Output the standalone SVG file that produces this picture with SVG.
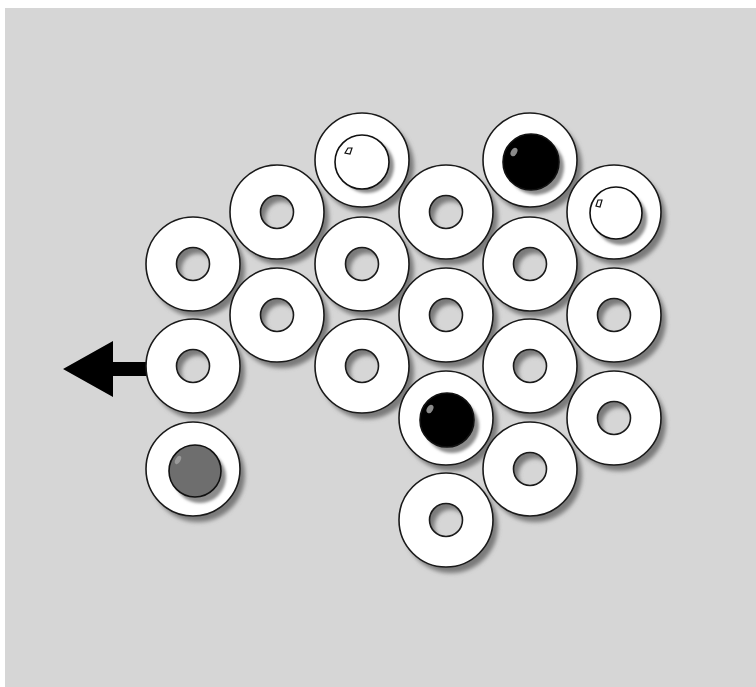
<svg xmlns="http://www.w3.org/2000/svg" width="756" height="687" viewBox="0 0 756 687">
  <defs>
    <!-- ring: outer disc with a centre hole (evenodd) -->
    <path id="ring" d="M-47,0 a47,47 0 1,0 94,0 a47,47 0 1,0 -94,0 Z M-16.5,0 a16.5,16.5 0 1,0 33,0 a16.5,16.5 0 1,0 -33,0 Z" fill-rule="evenodd"/>
    <filter id="soft" x="-30%" y="-30%" width="160%" height="160%">
      <feGaussianBlur stdDeviation="2"/>
    </filter>
    <filter id="softer" x="-30%" y="-30%" width="160%" height="160%">
      <feGaussianBlur stdDeviation="1.6"/>
    </filter>
    <radialGradient id="holeLight" cx="0.65" cy="0.7" r="0.6">
      <stop offset="0" stop-color="#e6e6e6"/>
      <stop offset="1" stop-color="#d2d2d2"/>
    </radialGradient>
  </defs>
  <style>
    .bg { fill: #d6d6d6; }
    .shadow { fill: #7a7a7a; filter: url(#soft); }
    .ring { fill: #ffffff; stroke: #1a1a1a; stroke-width: 1.6; }
    .hole { fill: url(#holeLight); }
    .ballShadow { fill: #8c8c8c; filter: url(#softer); }
    .ball { stroke: #111; stroke-width: 1.6; }
    .white { fill: #ffffff; }
    .black { fill: #000000; }
    .grey { fill: #6e6e6e; }
    .glint { fill: #ffffff; stroke: #111; stroke-width: 1.2; }
    .glintDark { fill: #8a8a8a; }
    .arrow { fill: #000000; }
  </style>

  <rect x="0" y="0" width="756" height="687" fill="#ffffff"/>
  <rect class="bg" x="5" y="8" width="751" height="679"/>

  <!-- cast shadows of all rings -->
  <g id="shadows">
    <use href="#ring" class="shadow" x="198" y="270"/>
    <use href="#ring" class="shadow" x="198" y="372"/>
    <use href="#ring" class="shadow" x="198" y="475"/>
    <use href="#ring" class="shadow" x="282" y="218"/>
    <use href="#ring" class="shadow" x="282" y="321"/>
    <use href="#ring" class="shadow" x="367" y="166"/>
    <use href="#ring" class="shadow" x="367" y="270"/>
    <use href="#ring" class="shadow" x="367" y="372"/>
    <use href="#ring" class="shadow" x="451" y="218"/>
    <use href="#ring" class="shadow" x="451" y="321"/>
    <use href="#ring" class="shadow" x="451" y="424"/>
    <use href="#ring" class="shadow" x="451" y="526"/>
    <use href="#ring" class="shadow" x="535" y="166"/>
    <use href="#ring" class="shadow" x="535" y="270"/>
    <use href="#ring" class="shadow" x="535" y="372"/>
    <use href="#ring" class="shadow" x="535" y="475"/>
    <use href="#ring" class="shadow" x="619" y="218"/>
    <use href="#ring" class="shadow" x="619" y="321"/>
    <use href="#ring" class="shadow" x="619" y="424"/>
  </g>

  <!-- connector: arrow leaving the left ring -->
  <g id="connectors">
    <polygon class="arrow" points="148,362 113,362 113,341 63,369 113,397 113,376 148,376"/>
  </g>

  <g id="r1a"><use href="#ring" class="ring" x="193" y="264"/></g>
  <g id="r1b"><use href="#ring" class="ring" x="193" y="366"/></g>
  <g id="r1c"><use href="#ring" class="ring" x="193" y="469"/></g>
  <g id="r2a"><use href="#ring" class="ring" x="277" y="212"/></g>
  <g id="r2b"><use href="#ring" class="ring" x="277" y="315"/></g>
  <g id="r3a"><use href="#ring" class="ring" x="362" y="160"/></g>
  <g id="r3b"><use href="#ring" class="ring" x="362" y="264"/></g>
  <g id="r3c"><use href="#ring" class="ring" x="362" y="366"/></g>
  <g id="r4a"><use href="#ring" class="ring" x="446" y="212"/></g>
  <g id="r4b"><use href="#ring" class="ring" x="446" y="315"/></g>
  <g id="r4c"><use href="#ring" class="ring" x="446" y="418"/></g>
  <g id="r4d"><use href="#ring" class="ring" x="446" y="520"/></g>
  <g id="r5a"><use href="#ring" class="ring" x="530" y="160"/></g>
  <g id="r5b"><use href="#ring" class="ring" x="530" y="264"/></g>
  <g id="r5c"><use href="#ring" class="ring" x="530" y="366"/></g>
  <g id="r5d"><use href="#ring" class="ring" x="530" y="469"/></g>
  <g id="r6a"><use href="#ring" class="ring" x="614" y="212"/></g>
  <g id="r6b"><use href="#ring" class="ring" x="614" y="315"/></g>
  <g id="r6c"><use href="#ring" class="ring" x="614" y="418"/></g>

  <!-- balls resting in rings -->
  <g id="ball-white-top">
    <circle class="ballShadow" cx="367" cy="166" r="27"/>
    <circle class="ball white" cx="362" cy="162" r="27"/>
    <polygon class="glint" points="345,153 348,148 352,148 350,154"/>
  </g>
  <g id="ball-black-top">
    <circle class="ballShadow" cx="536" cy="167" r="28"/>
    <circle class="ball black" cx="531" cy="162" r="28"/>
    <ellipse class="glintDark" cx="514" cy="152" rx="3" ry="4.5" transform="rotate(30 514 152)"/>
  </g>
  <g id="ball-white-right">
    <circle class="ballShadow" cx="621" cy="219" r="26"/>
    <circle class="ball white" cx="616" cy="213" r="26"/>
    <polygon class="glint" points="596,206 598,200 602,200 600,207"/>
  </g>
  <g id="ball-black-mid">
    <circle class="ballShadow" cx="452" cy="426" r="27"/>
    <circle class="ball black" cx="447" cy="420" r="27"/>
    <ellipse class="glintDark" cx="430" cy="409" rx="3" ry="4.5" transform="rotate(30 430 409)"/>
  </g>
  <g id="ball-grey">
    <circle class="ballShadow" cx="200" cy="477" r="26"/>
    <circle class="ball grey" cx="195" cy="471" r="26"/>
    <ellipse fill="#9a9a9a" cx="178" cy="460" rx="2.5" ry="4.5" transform="rotate(30 178 460)"/>
  </g>
</svg>
